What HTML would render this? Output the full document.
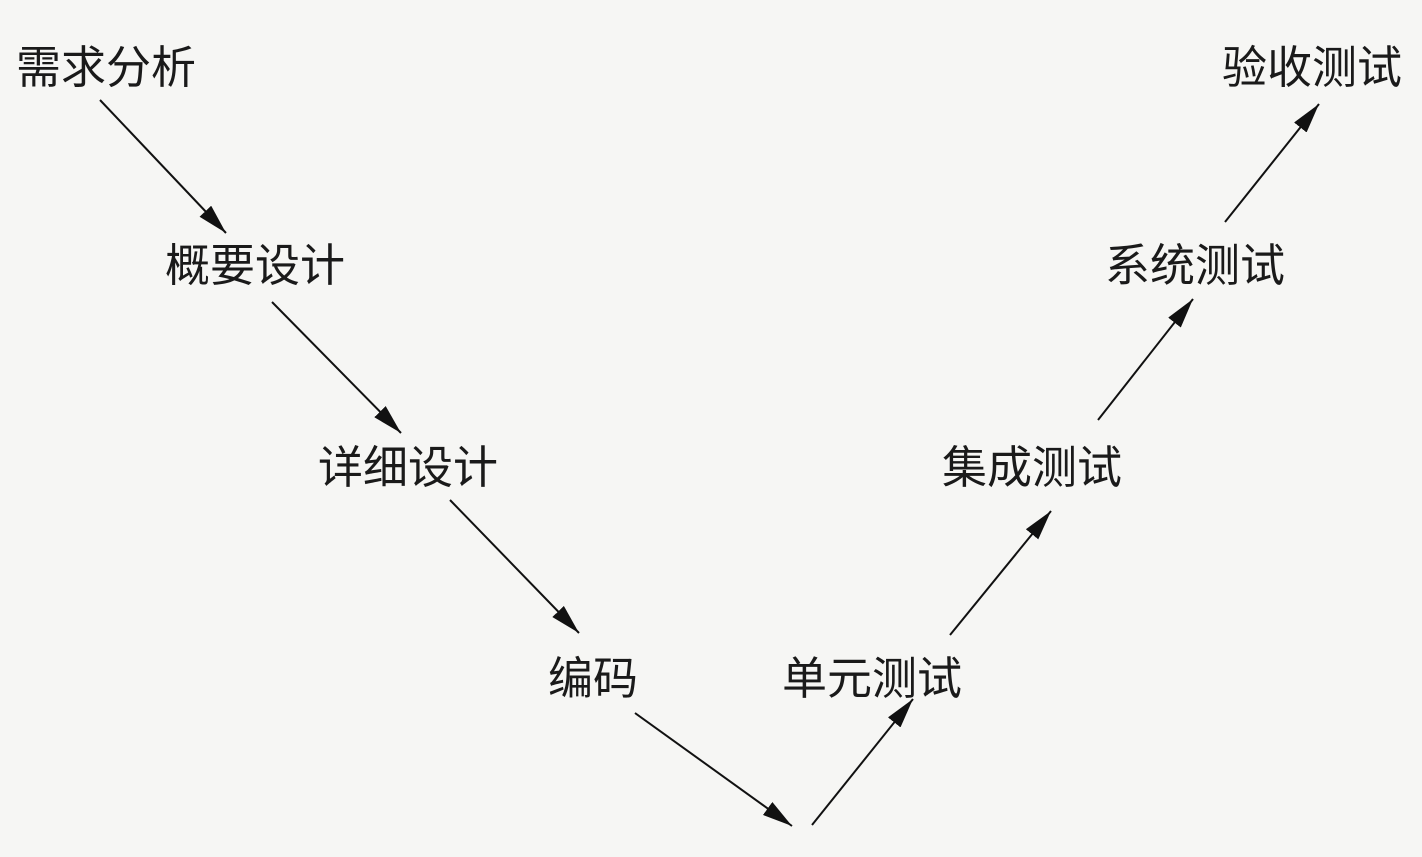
<!DOCTYPE html>
<html><head><meta charset="utf-8"><style>
html,body{margin:0;padding:0;background:#f6f6f4;}
svg{display:block;}
text{font-family:"Liberation Sans","Noto Sans CJK SC",sans-serif;font-size:45px;fill:#1a1a1a;}
</style></head><body>
<svg width="1422" height="857" viewBox="0 0 1422 857" xmlns="http://www.w3.org/2000/svg">
<defs>
<marker id="a" viewBox="0 0 30 16" refX="30" refY="8" markerWidth="30" markerHeight="16" markerUnits="userSpaceOnUse" orient="auto">
<path d="M0,0 L30,8 L0,16 z" fill="#111"/>
</marker>
</defs>
<rect width="1422" height="857" fill="#f6f6f4"/>
<text x="16" y="83">需求分析</text>
<text x="165" y="281">概要设计</text>
<text x="318" y="483">详细设计</text>
<text x="548" y="694">编码</text>
<text x="782" y="694">单元测试</text>
<text x="942" y="483">集成测试</text>
<text x="1105" y="281">系统测试</text>
<text x="1222" y="83">验收测试</text>
<g stroke="#111" stroke-width="2" marker-end="url(#a)">
<line x1="100" y1="100" x2="226" y2="233"/>
<line x1="272" y1="302" x2="401" y2="433"/>
<line x1="450" y1="500" x2="579" y2="633"/>
<line x1="635" y1="713" x2="792" y2="826"/>
<line x1="812" y1="825" x2="913" y2="699"/>
<line x1="950" y1="635" x2="1051" y2="511"/>
<line x1="1098" y1="420" x2="1193" y2="299"/>
<line x1="1225" y1="222" x2="1319" y2="104"/>
</g>
</svg>
</body></html>
